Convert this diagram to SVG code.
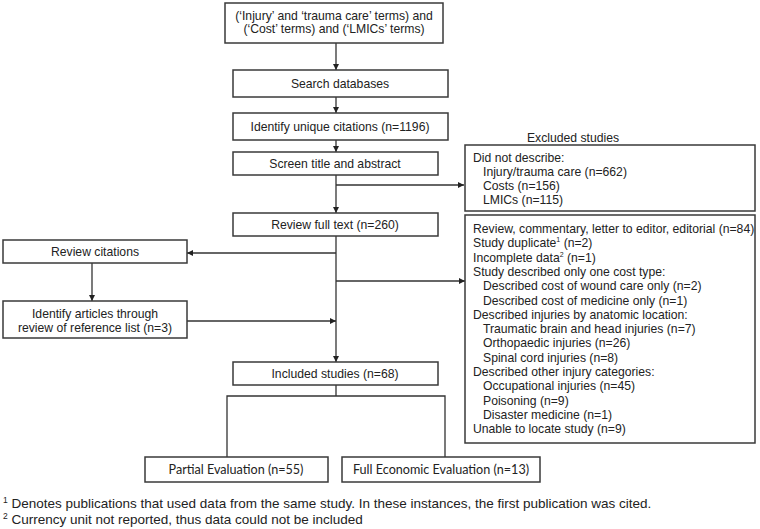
<svg xmlns="http://www.w3.org/2000/svg" width="760" height="529" viewBox="0 0 760 529">
<defs>
<marker id="ah" viewBox="0 0 8 8" refX="8" refY="4" markerWidth="6" markerHeight="6" markerUnits="userSpaceOnUse" orient="auto">
<path d="M0,0 L8,4 L0,8 z" fill="#222"/>
</marker>
<style>
.box{fill:#fff;stroke:#3a3a3a;stroke-width:1.5}
.t{font-family:"Liberation Sans",Arial,sans-serif;font-size:12.2px;fill:#222}
.c{text-anchor:middle}
.cal{font-family:Lato,"Open Sans",sans-serif;font-size:12.6px;fill:#222;text-anchor:middle}
.ln{fill:none;stroke:#333;stroke-width:1.3}
.fn{font-family:"Liberation Sans",Arial,sans-serif;font-size:13.5px;fill:#222}
</style>
</defs>
<rect width="760" height="529" fill="#fff"/>
<g id="connectors">
<path class="ln" d="M336,43 V70" marker-end="url(#ah)"/>
<path class="ln" d="M336,97 V113" marker-end="url(#ah)"/>
<path class="ln" d="M336,140 V152" marker-end="url(#ah)"/>
<path class="ln" d="M336,175 V213" marker-end="url(#ah)"/>
<path class="ln" d="M336,185 H464" marker-end="url(#ah)"/>
<path class="ln" d="M336,236 V362" marker-end="url(#ah)"/>
<path class="ln" d="M336,253 H187" marker-end="url(#ah)"/>
<path class="ln" d="M336,281 H465" marker-end="url(#ah)"/>
<path class="ln" d="M92,263 V301" marker-end="url(#ah)"/>
<path class="ln" d="M187,321 H336" marker-end="url(#ah)"/>
<path class="ln" d="M336,385 V396 M227,457 V396 H445 V457"/>
</g>
<g id="n1"><rect class="box" x="225" y="3" width="218" height="40"/>
<text class="t c" x="334" y="19.5">(‘Injury’ and ‘trauma care’ terms) and</text>
<text class="t c" x="334" y="33">(‘Cost’ terms) and (‘LMICs’ terms)</text></g>
<g id="n2"><rect class="box" x="233" y="70" width="215" height="27"/>
<text class="t c" x="340" y="87.5">Search databases</text></g>
<g id="n3"><rect class="box" x="233" y="113" width="215" height="27"/>
<text class="t c" x="340" y="130.5">Identify unique citations (n=1196)</text></g>
<g id="n4"><rect class="box" x="233" y="152" width="205" height="23"/>
<text class="t c" x="335" y="167.5">Screen title and abstract</text></g>
<g id="n5"><rect class="box" x="233" y="213" width="205" height="23"/>
<text class="t c" x="335" y="228.5">Review full text (n=260)</text></g>
<g id="n6"><rect class="box" x="3" y="240" width="184" height="23"/>
<text class="t c" x="95" y="255.5">Review citations</text></g>
<g id="n7"><rect class="box" x="3" y="301" width="184" height="37"/>
<text class="t c" x="95" y="318">Identify articles through</text>
<text class="t c" x="95" y="332">review of reference list (n=3)</text></g>
<g id="n8"><rect class="box" x="233" y="362" width="205" height="23"/>
<text class="t c" x="335" y="377.5">Included studies (n=68)</text></g>
<g id="n9"><rect class="box" x="145" y="457" width="183" height="25"/>
<text class="cal" x="236" y="474">Partial Evaluation (n=55)</text></g>
<g id="n10"><rect class="box" x="342" y="457" width="198" height="25"/>
<text class="cal" x="441" y="474">Full Economic Evaluation (n=13)</text></g>
<g id="excl-title"><text class="t c" x="573" y="142">Excluded studies</text></g>
<g id="ex1"><rect class="box" x="465" y="145" width="290" height="66"/>
<text class="t" x="473" y="162">Did not describe:</text>
<text class="t" x="483" y="176">Injury/trauma care (n=662)</text>
<text class="t" x="483" y="190">Costs (n=156)</text>
<text class="t" x="483" y="204">LMICs (n=115)</text></g>
<g id="ex2"><rect class="box" x="465" y="215" width="290" height="228"/>
<text class="t" x="473" y="233">Review, commentary, letter to editor, editorial (n=84)</text>
<text class="t" x="473" y="247.3">Study duplicate<tspan font-size="7" dy="-5">1</tspan><tspan dy="5"> (n=2)</tspan></text>
<text class="t" x="473" y="261.6">Incomplete data<tspan font-size="7" dy="-5">2</tspan><tspan dy="5"> (n=1)</tspan></text>
<text class="t" x="473" y="275.9">Study described only one cost type:</text>
<text class="t" x="483" y="290.2">Described cost of wound care only (n=2)</text>
<text class="t" x="483" y="304.5">Described cost of medicine only (n=1)</text>
<text class="t" x="473" y="318.8">Described injuries by anatomic location:</text>
<text class="t" x="483" y="333.1">Traumatic brain and head injuries (n=7)</text>
<text class="t" x="483" y="347.4">Orthopaedic injuries (n=26)</text>
<text class="t" x="483" y="361.7">Spinal cord injuries (n=8)</text>
<text class="t" x="473" y="376">Described other injury categories:</text>
<text class="t" x="483" y="390.3">Occupational injuries (n=45)</text>
<text class="t" x="483" y="404.6">Poisoning (n=9)</text>
<text class="t" x="483" y="418.9">Disaster medicine (n=1)</text>
<text class="t" x="473" y="433.2">Unable to locate study (n=9)</text></g>
<g id="footnotes">
<text class="fn" x="3" y="508"><tspan font-size="8.5" dy="-5">1</tspan><tspan dy="5"> Denotes publications that used data from the same study. In these instances, the first publication was cited.</tspan></text>
<text class="fn" x="3" y="524"><tspan font-size="8.5" dy="-5">2</tspan><tspan dy="5">  Currency unit not reported, thus data could not be included</tspan></text>
</g>
</svg>
